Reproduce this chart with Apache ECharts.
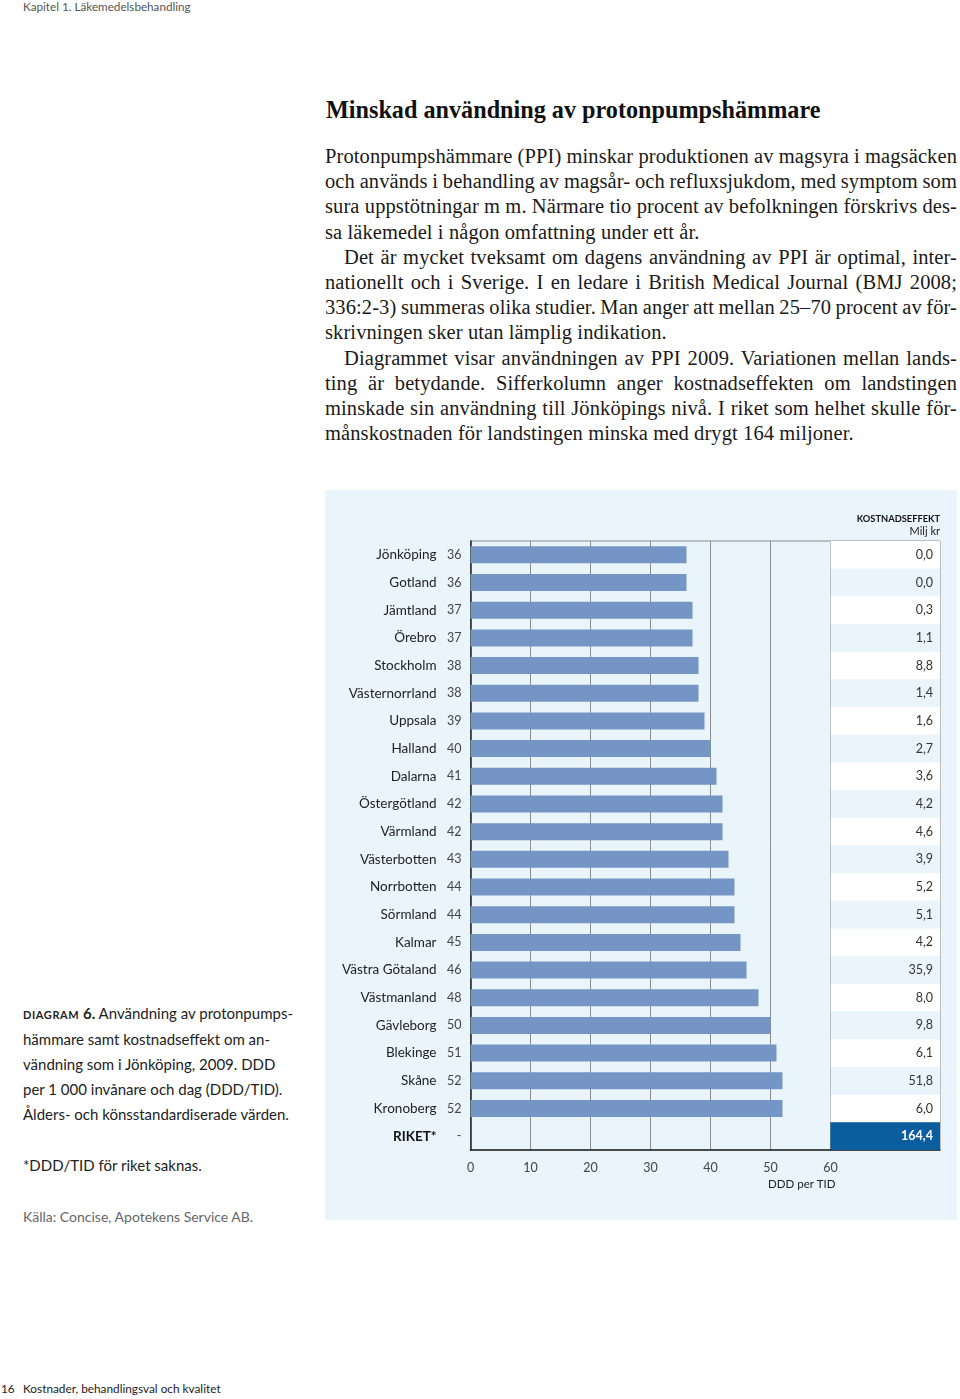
<!DOCTYPE html>
<html>
<head>
<meta charset="utf-8">
<script src="https://cdn.jsdelivr.net/npm/echarts@6/dist/echarts.min.js"></script>
<style>
  html, body { margin: 0; padding: 0; background: #fff; }
  body { width: 960px; height: 1399px; position: relative; overflow: hidden; }
  .sans { font-family: Lato, "Open Sans", sans-serif; }
  .serif { font-family: "Liberation Serif", "DejaVu Serif", serif; }
  #header { position: absolute; left: 23px; top: -1px; font-size: 11.7px; line-height: 14px; color: #555; }
  #title { position: absolute; left: 326px; top: 95px; font-size: 24.2px; line-height: 30px; font-weight: bold; color: #111; }
  #body { position: absolute; left: 325px; top: 144px; width: 632px; font-size: 20.5px; letter-spacing: 0.1px; color: #1a1a1a; }
  #body div { height: 25.2px; line-height: 25.2px; white-space: nowrap; text-align: justify; text-align-last: justify; word-spacing: -2px; }
  #body div.last { text-align-last: left; word-spacing: 0; }
  #body div.ind { padding-left: 19px; }
  #chart { position: absolute; left: 325px; top: 490px; width: 632px; height: 730px; }
  #caption { position: absolute; left: 23px; top: 1001px; font-size: 15px; line-height: 25px; color: #222; }
  #caption .sc { font-size: 11px; font-weight: bold; letter-spacing: 0.6px; }
  #note { position: absolute; left: 23px; top: 1153px; font-size: 15px; line-height: 25px; color: #222; }
  #source { position: absolute; left: 23px; top: 1204px; font-size: 14px; line-height: 25px; color: #666; }
  .foot { position: absolute; top: 1382px; font-size: 11.8px; line-height: 14px; color: #222; }
</style>
</head>
<body>
<div id="header" class="sans">Kapitel 1. Läkemedelsbehandling</div>
<div id="title" class="serif">Minskad användning av protonpumpshämmare</div>
<div id="body" class="serif">
  <div>Protonpumpshämmare (PPI) minskar produktionen av magsyra i magsäcken</div>
  <div>och används i behandling av magsår- och refluxsjukdom, med symptom som</div>
  <div>sura uppstötningar m m. Närmare tio procent av befolkningen förskrivs des-</div>
  <div class="last">sa läkemedel i någon omfattning under ett år.</div>
  <div class="ind">Det är mycket tveksamt om dagens användning av PPI är optimal, inter-</div>
  <div>nationellt och i Sverige. I en ledare i British Medical Journal (BMJ 2008;</div>
  <div>336:2-3) summeras olika studier. Man anger att mellan 25–70 procent av för-</div>
  <div class="last">skrivningen sker utan lämplig indikation.</div>
  <div class="ind">Diagrammet visar användningen av PPI 2009. Variationen mellan lands-</div>
  <div>ting är betydande. Sifferkolumn anger kostnadseffekten om landstingen</div>
  <div>minskade sin användning till Jönköpings nivå. I riket som helhet skulle för-</div>
  <div class="last">månskostnaden för landstingen minska med drygt 164 miljoner.</div>
</div>
<div id="chart"></div>
<div id="caption" class="sans"><b><span class="sc">DIAGRAM</span> 6.</b> Användning av protonpumps-<br>hämmare samt kostnadseffekt om an-<br>vändning som i Jönköping, 2009. DDD<br>per 1 000 invånare och dag (DDD/TID).<br>Ålders- och könsstandardiserade värden.</div>
<div id="note" class="sans">*DDD/TID för riket saknas.</div>
<div id="source" class="sans">Källa: Concise, Apotekens Service AB.</div>
<div class="foot sans" style="left:1px">16</div>
<div class="foot sans" style="left:23px">Kostnader, behandlingsval och kvalitet</div>
<script>
// landsting, DDD per TID och kostnadseffekt (Milj kr)
var regions = ['Jönköping', 'Gotland', 'Jämtland', 'Örebro', 'Stockholm', 'Västernorrland',
  'Uppsala', 'Halland', 'Dalarna', 'Östergötland', 'Värmland', 'Västerbotten', 'Norrbotten',
  'Sörmland', 'Kalmar', 'Västra Götaland', 'Västmanland', 'Gävleborg', 'Blekinge', 'Skåne',
  'Kronoberg', 'RIKET*'];
var ddd = [36, 36, 37, 37, 38, 38, 39, 40, 41, 42, 42, 43, 44, 44, 45, 46, 48, 50, 51, 52, 52, null];
var cost = [0.0, 0.0, 0.3, 1.1, 8.8, 1.4, 1.6, 2.7, 3.6, 4.2, 4.6, 3.9, 5.2, 5.1, 4.2, 35.9,
  8.0, 9.8, 6.1, 51.8, 6.0, 164.4];
var xTicks = [0, 10, 20, 30, 40, 50, 60];

var FONT = 'Lato, "Open Sans", sans-serif';
var BG = '#eaf4fb';
var BAR = '#7596c5';
var DARK = '#0b5e9e';

function fmt(v) {
  return v.toFixed(1).replace('.', ',');
}

var chart = echarts.init(document.getElementById('chart'), null, { renderer: 'canvas' });

var option = {
  backgroundColor: BG,
  animation: false,
  textStyle: { fontFamily: FONT },
  grid: [
    { left: 145.5, top: 51, width: 360, height: 609, show: true, borderColor: '#8c8c8c', borderWidth: 1 },
    { left: 505.5, top: 51, width: 109.5, height: 609, show: true, borderColor: '#8c8c8c', borderWidth: 1 }
  ],
  xAxis: [
    {
      gridIndex: 0, type: 'value', min: xTicks[0], max: xTicks[xTicks.length - 1], interval: 10,
      axisLine: { show: true, lineStyle: { color: '#222', width: 1.5 } },
      axisTick: { show: false },
      axisLabel: { margin: 11, color: '#444', fontSize: 12.5, fontFamily: FONT },
      splitLine: { show: true, lineStyle: { color: '#8c8c8c', width: 1 } }
    },
    {
      gridIndex: 1, type: 'value', min: 0, max: 1,
      axisLine: { show: true, lineStyle: { color: '#222', width: 1.5 } },
      axisTick: { show: false },
      axisLabel: { show: false },
      splitLine: { show: false }
    }
  ],
  yAxis: [
    {
      gridIndex: 0, type: 'category', data: regions, inverse: true,
      axisLine: { show: true, lineStyle: { color: '#222', width: 1.5 } },
      axisTick: { show: false },
      axisLabel: {
        margin: 9,
        formatter: function (name, i) {
          var v = ddd[i] == null ? '-' : String(ddd[i]);
          var n = name === 'RIKET*' ? '{b|' + name + '}' : '{n|' + name + '}';
          return n + '{v|' + v + '}';
        },
        rich: {
          n: { fontSize: 13.5, color: '#222', fontFamily: FONT },
          b: { fontSize: 13.5, color: '#111', fontWeight: 'bold', fontFamily: FONT },
          v: { fontSize: 12.5, color: '#444', width: 25, align: 'right', fontFamily: FONT }
        }
      },
      splitLine: { show: false }
    },
    {
      gridIndex: 1, type: 'category', data: regions, inverse: true, show: false
    }
  ],
  graphic: [
    {
      type: 'text', right: 17, top: 24,
      style: { text: 'KOSTNADSEFFEKT', fontSize: 9.3, fontWeight: 'bold', fill: '#111', fontFamily: FONT }
    },
    {
      type: 'text', right: 17, top: 36,
      style: { text: 'Milj kr', fontSize: 11, fill: '#222', fontFamily: FONT }
    },
    {
      type: 'text', left: 443, top: 688,
      style: { text: 'DDD per TID', fontSize: 11.5, fill: '#222', fontFamily: FONT }
    }
  ],
  series: [
    {
      type: 'bar', xAxisIndex: 0, yAxisIndex: 0,
      data: ddd,
      barWidth: 17,
      itemStyle: { color: BAR },
      silent: true
    },
    {
      type: 'bar', xAxisIndex: 1, yAxisIndex: 1,
      barWidth: '100%',
      silent: true,
      data: cost.map(function (c, i) {
        var last = i === cost.length - 1;
        return {
          value: 1,
          itemStyle: { color: last ? DARK : (i % 2 === 0 ? '#ffffff' : BG) },
          label: {
            show: true, position: 'insideRight', distance: 7,
            formatter: fmt(c),
            color: last ? '#fff' : '#333',
            fontWeight: last ? 'bold' : 'normal',
            fontSize: 12.5, fontFamily: FONT
          }
        };
      })
    }
  ]
};

chart.setOption(option);
</script>
</body>
</html>
